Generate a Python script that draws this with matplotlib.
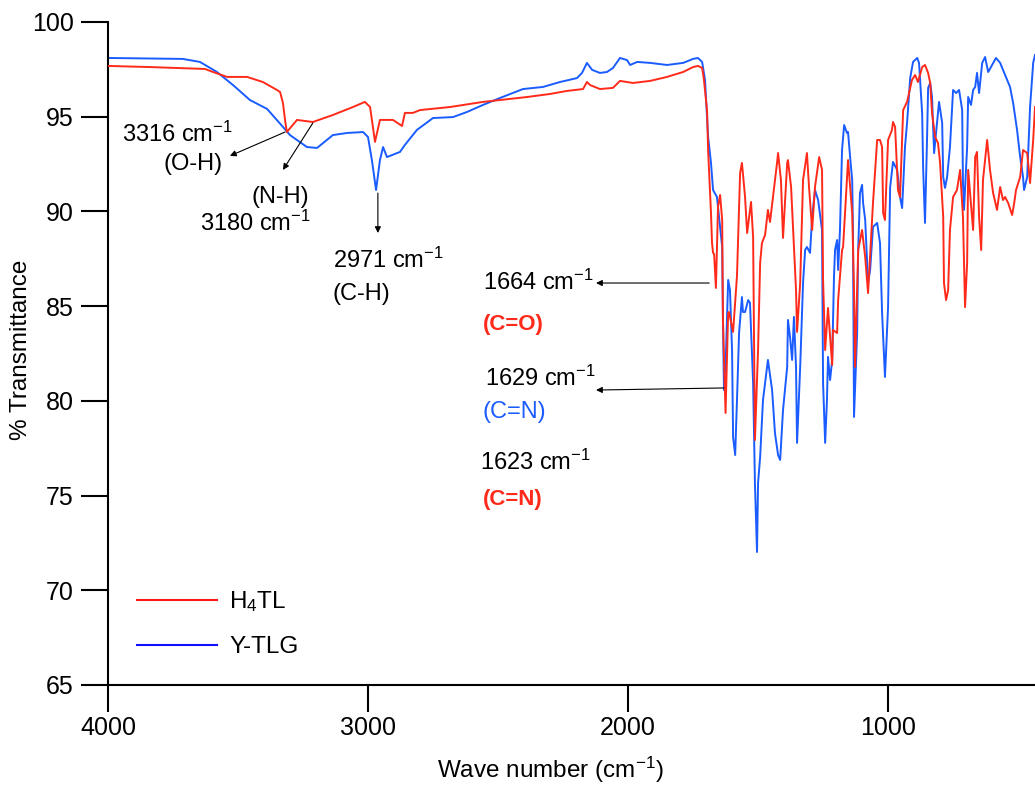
import matplotlib
matplotlib.use("Agg")
import matplotlib.pyplot as plt
from matplotlib.lines import Line2D

plt.rcParams['font.family'] = ['Liberation Sans', 'DejaVu Sans']
plt.rcParams['mathtext.fontset'] = 'custom'
plt.rcParams['mathtext.rm'] = 'Liberation Sans'
plt.rcParams['mathtext.it'] = 'Liberation Sans:italic'
plt.rcParams['mathtext.bf'] = 'Liberation Sans:bold'

# ---------------- data ----------------
h4tl_wn = [4000, 3838, 3627, 3596, 3542, 3465, 3404, 3350, 3338, 3327, 3319, 3312, 3273, 3212,
           3135, 3058, 3012, 2992, 2973, 2954, 2904, 2869, 2858, 2827, 2800, 2685, 2558, 2492,
           2388, 2300, 2235, 2173, 2158, 2146, 2108, 2058, 2031, 1981, 1915, 1850, 1788, 1750,
           1731, 1715, 1708, 1696, 1692, 1681, 1677, 1673, 1669, 1662, 1654, 1646, 1638, 1635,
           1625, 1615, 1612, 1596, 1581, 1569, 1562, 1550, 1542, 1527, 1519, 1512, 1500, 1492,
           1485, 1473, 1462, 1454, 1427, 1423, 1412, 1404, 1388, 1385, 1373, 1365, 1354, 1350,
           1338, 1327, 1312, 1304, 1292, 1281, 1265, 1254, 1250, 1242, 1231, 1215, 1212, 1196,
           1192, 1177, 1173, 1154, 1138, 1131, 1127, 1115, 1100, 1088, 1077, 1058, 1042, 1031,
           1023, 1019, 1012, 1000, 985, 981, 973, 962, 954, 942, 927, 908, 896, 885, 869, 858,
           846, 838, 831, 819, 808, 800, 788, 785, 777, 769, 762, 750, 735, 723, 712, 704, 696,
           692, 677, 673, 665, 658, 650, 642, 635, 619, 608, 596, 581, 569, 558, 550, 538, 523,
           515, 508, 492, 481, 465, 454, 442, 435]
h4tl_t = [97.68, 97.62, 97.52, 97.36, 97.10, 97.10, 96.83, 96.41, 96.30, 95.72, 94.83, 94.19,
          94.83, 94.72, 95.09, 95.51, 95.78, 95.51, 93.67, 94.83, 94.83, 94.51, 95.20, 95.20,
          95.35, 95.51, 95.78, 95.88, 96.04, 96.20, 96.36, 96.46, 96.83, 96.67, 96.46, 96.52,
          96.89, 96.78, 96.89, 97.10, 97.36, 97.62, 97.68, 97.57, 96.94, 95.30, 93.20, 89.92,
          88.33, 87.81, 87.75, 85.96, 90.23, 90.87, 89.55, 84.27, 79.36, 84.64, 84.69, 83.64,
          86.60, 92.03, 92.56, 90.76, 88.86, 90.50, 88.65, 77.93, 82.68, 87.28, 88.33, 88.76,
          90.08, 89.44, 92.56, 93.08, 91.66, 88.60, 92.56, 92.71, 91.29, 89.02, 85.85, 83.64,
          86.22, 91.66, 93.08, 91.29, 89.02, 91.29, 92.87, 92.19, 86.38, 82.68, 84.90, 81.89,
          83.74, 83.58, 85.32, 87.96, 88.12, 92.71, 89.92, 85.85, 81.79, 87.96, 89.02, 87.59,
          85.69, 90.44, 93.77, 93.77, 93.40, 89.92, 89.55, 93.77, 94.30, 94.72, 94.46, 91.13,
          90.76, 95.35, 95.78, 96.94, 97.20, 96.83, 97.62, 97.73, 97.31, 96.78, 95.20, 93.93,
          93.61, 92.56, 89.71, 86.22, 85.32, 85.85, 89.02, 90.76, 91.13, 92.19, 89.71, 84.95,
          87.28, 92.19, 89.71, 89.02, 92.87, 93.14, 89.71, 87.96, 91.66, 93.77, 92.19, 90.97,
          90.08, 91.29, 90.60, 90.76, 90.44, 89.81, 90.44, 91.13, 91.82, 93.24, 93.08, 91.50,
          93.77, 95.51]

ytlg_wn = [4000, 3712, 3646, 3581, 3519, 3454, 3388, 3327, 3300, 3235, 3196, 3135, 3081, 3019,
           3000, 2985, 2969, 2954, 2942, 2927, 2877, 2858, 2812, 2750, 2673, 2619, 2558, 2492,
           2404, 2327, 2262, 2196, 2177, 2158, 2138, 2108, 2081, 2058, 2031, 2004, 1992, 1965,
           1915, 1850, 1788, 1750, 1731, 1715, 1704, 1692, 1681, 1673, 1658, 1650, 1638, 1635,
           1631, 1623, 1615, 1608, 1600, 1596, 1588, 1581, 1573, 1562, 1558, 1550, 1538, 1531,
           1519, 1512, 1504, 1500, 1492, 1481, 1462, 1446, 1435, 1423, 1415, 1404, 1388, 1385,
           1377, 1369, 1362, 1354, 1350, 1338, 1327, 1319, 1312, 1300, 1292, 1281, 1269, 1254,
           1250, 1242, 1235, 1231, 1223, 1215, 1208, 1204, 1196, 1192, 1185, 1177, 1169, 1158,
           1154, 1146, 1138, 1135, 1131, 1119, 1115, 1108, 1100, 1096, 1088, 1077, 1069, 1058,
           1042, 1031, 1023, 1012, 1000, 992, 981, 965, 954, 946, 935, 927, 915, 904, 888, 881,
           869, 865, 858, 850, 846, 838, 831, 823, 812, 804, 792, 788, 781, 773, 762, 750, 738,
           727, 715, 712, 708, 696, 692, 681, 673, 665, 658, 650, 638, 627, 615, 600, 585, 569,
           550, 531, 519, 504, 492, 481, 477, 465, 454, 442, 435]
ytlg_t = [98.10, 98.05, 97.89, 97.36, 96.67, 95.88, 95.41, 94.46, 94.03, 93.40, 93.35, 94.03,
          94.14, 94.19, 93.93, 92.71, 91.13, 92.71, 93.40, 92.87, 93.14, 93.51, 94.30, 94.93,
          94.98, 95.25, 95.62, 95.99, 96.46, 96.57, 96.83, 97.04, 97.31, 97.84, 97.47, 97.31,
          97.36, 97.57, 98.10, 97.99, 97.73, 97.89, 97.84, 97.73, 97.84, 98.05, 98.10, 97.89,
          96.94, 93.93, 92.56, 91.13, 90.76, 89.71, 88.12, 84.27, 80.57, 82.68, 86.38, 85.85,
          82.68, 78.09, 77.14, 80.05, 83.58, 85.48, 84.69, 84.69, 85.32, 85.17, 80.94, 75.66,
          72.02, 75.66, 77.04, 80.05, 82.16, 80.57, 78.30, 77.14, 76.88, 79.52, 81.79, 84.27,
          83.37, 82.16, 84.43, 81.79, 77.78, 81.79, 86.22, 87.96, 88.12, 87.81, 89.71, 91.13,
          90.60, 89.02, 80.94, 77.78, 80.05, 82.32, 81.10, 82.16, 86.54, 87.96, 88.49, 86.91,
          89.02, 93.24, 94.56, 94.14, 94.19, 92.87, 91.66, 89.02, 79.15, 83.58, 87.96, 90.97,
          91.40, 90.44, 89.55, 86.22, 86.91, 89.18, 89.39, 88.33, 84.64, 81.26, 84.95, 91.29,
          92.61, 92.19, 90.76, 90.18, 93.40, 94.67, 97.04, 97.89, 98.10, 97.84, 95.20, 92.19,
          89.39, 93.93, 96.52, 96.78, 96.04, 93.08, 94.67, 95.78, 94.67, 91.82, 91.24, 91.82,
          93.40, 96.41, 96.25, 96.41, 95.35, 91.50, 90.08, 93.40, 96.04, 95.62, 96.41, 96.57,
          97.31, 96.25, 97.84, 98.15, 97.36, 97.73, 98.10, 97.84, 97.20, 96.57, 95.72, 94.30,
          92.87, 91.82, 91.13, 91.82, 95.51, 97.84, 98.26]

series_labels = ["H$_4$TL", "Y-TLG"]
x_ticks = [4000, 3000, 2000, 1000]
y_ticks = [65, 70, 75, 80, 85, 90, 95, 100]

RED = '#ff2a1a'
BLUE = '#1a5cff'

fig = plt.figure(figsize=(10.35, 7.85), dpi=100)
ax = fig.add_axes([0.1043, 0.1274, 0.8957, 0.8446])

ax.plot(h4tl_wn, h4tl_t, color=RED, lw=1.4, zorder=3)
ax.plot(ytlg_wn, ytlg_t, color=BLUE, lw=1.4, zorder=2)

ax.set_xlim(4000, 435)
ax.set_ylim(65, 100)
ax.set_xticks(x_ticks)
ax.set_yticks(y_ticks)
ax.set_xticklabels([str(v) for v in x_ticks])
ax.set_yticklabels([str(v) for v in y_ticks])

for s in ['top', 'right']:
    ax.spines[s].set_visible(False)
for s in ['left', 'bottom']:
    ax.spines[s].set_linewidth(1.5)
ax.tick_params(axis='both', direction='out', length=19.5, width=1.5, labelsize=18)
ax.tick_params(axis='x', pad=3)
ax.tick_params(axis='y', pad=5)

ax.set_xlabel("Wave number (cm$^{-1}$)", fontsize=17.5)
ax.xaxis.set_label_coords(0.477, -0.106)
ax.set_ylabel("% Transmittance", fontsize=17.5)
ax.yaxis.set_label_coords(-0.082, 0.505)

fs = 17
apr = dict(arrowstyle='-|>', color='black', lw=0.8, mutation_scale=9, shrinkA=0, shrinkB=0)

# O-H
ax.annotate('', xy=(3531, 92.93), xytext=(3319, 94.19), arrowprops=apr)
ax.text(3946, 93.67, "3316 cm$^{-1}$", fontsize=fs, ha='left', va='baseline')
ax.text(3673, 92.19, "(O-H)", fontsize=fs, ha='center', va='baseline')
# N-H
ax.annotate('', xy=(3327, 92.19), xytext=(3212, 94.67), arrowprops=apr)
ax.text(3338, 90.44, "(N-H)", fontsize=fs, ha='center', va='baseline')
ax.text(3646, 88.97, "3180 cm$^{-1}$", fontsize=fs, ha='left', va='baseline')
# C-H
ax.annotate('', xy=(2962, 88.86), xytext=(2962, 90.97), arrowprops=apr)
ax.text(3135, 87.0, "2971 cm$^{-1}$", fontsize=fs, ha='left', va='baseline')
ax.text(3135, 85.3, "(C-H)", fontsize=fs, ha='left', va='baseline')
# C=O
ax.annotate('', xy=(2123, 86.22), xytext=(1688, 86.22), arrowprops=apr)
ax.text(2558, 85.85, "1664 cm$^{-1}$", fontsize=fs, ha='left', va='baseline')
ax.text(2558, 83.74, "(C=O)", fontsize=16, ha='left', va='baseline', color=RED, fontweight='bold')
# C=N blue
ax.annotate('', xy=(2123, 80.57), xytext=(1631, 80.68), arrowprops=apr)
ax.text(2550, 80.78, "1629 cm$^{-1}$", fontsize=fs, ha='left', va='baseline')
ax.text(2558, 79.1, "(C=N)", fontsize=fs, ha='left', va='baseline', color=BLUE)
# C=N red
ax.text(2569, 76.35, "1623 cm$^{-1}$", fontsize=fs, ha='left', va='baseline')
ax.text(2558, 74.5, "(C=N)", fontsize=16, ha='left', va='baseline', color=RED, fontweight='bold')

handles = [Line2D([], [], color='#ff1a1a', lw=1.5), Line2D([], [], color='#1010ff', lw=1.5)]
ax.legend(handles, series_labels, loc='center left', bbox_to_anchor=(0.0313, 0.092),
          frameon=False, fontsize=17.5, handlelength=3.3, handletextpad=0.5,
          labelspacing=0.9, borderpad=0, borderaxespad=0)

fig.savefig('out.png', dpi=100)
